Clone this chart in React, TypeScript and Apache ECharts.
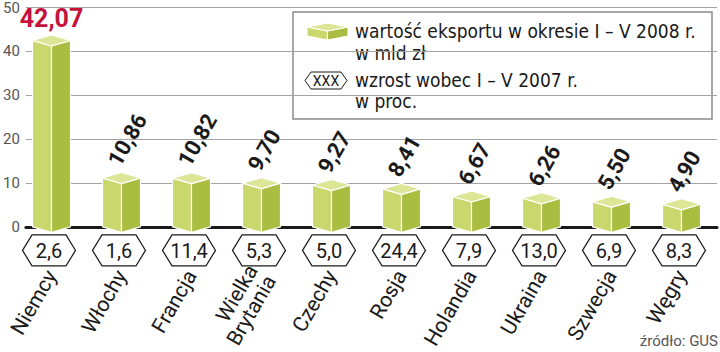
import React, { useEffect, useRef } from "react";
import * as echarts from "echarts";

const categories = ["Niemcy", "Włochy", "Francja", "Wielka\nBrytania", "Czechy", "Rosja", "Holandia", "Ukraina", "Szwecja", "Węgry"];
const exportValues = [42.07, 10.86, 10.82, 9.7, 9.27, 8.41, 6.67, 6.26, 5.5, 4.9];
const growthValues = [2.6, 1.6, 11.4, 5.3, 5.0, 24.4, 7.9, 13.0, 6.9, 8.3];
const yMin = 0;
const yMax = 50;
const yInterval = 10;
const legendExportLines = ["wartość eksportu w okresie I – V 2008 r.", "w mld zł"];
const legendGrowthLines = ["wzrost wobec I – V 2007 r.", "w proc."];
const legendHexText = "XXX";
const sourceText = "źródło: GUS";
const highlightIndex = 0;

const FONT = "Roboto, 'Noto Sans', sans-serif";
const NARROW = "'Liberation Sans Narrow', 'DejaVu Sans Condensed', Roboto, sans-serif";
const C_FRONT = "#c8d86c";
const C_SIDE = "#a9bd40";
const C_TOP = "#dbe696";
const C_RED = "#c4123c";
const C_TEXT = "#1a1a1a";

const fmt = (v: number, d: number) => v.toFixed(d).replace(".", ",");

function cube(x: number, yT: number, y0: number, hw: number, d: number, z = 0) {
  const s = { stroke: "#ffffff", lineWidth: 1.2 };
  return [
    { type: "polygon", z2: z, shape: { points: [[x - hw, yT], [x, yT + d], [x, y0 + d], [x - hw, y0]] }, style: { fill: C_FRONT, ...s } },
    { type: "polygon", z2: z, shape: { points: [[x, yT + d], [x + hw, yT], [x + hw, y0], [x, y0 + d]] }, style: { fill: C_SIDE, ...s } },
    { type: "polygon", z2: z, shape: { points: [[x - hw, yT], [x, yT - d], [x + hw, yT], [x, yT + d]] }, style: { fill: C_TOP, ...s } },
  ];
}

function hexPoints(cx: number, cy: number, hw: number, inner: number, hh: number) {
  return [[cx - hw, cy], [cx - inner, cy - hh], [cx + inner, cy - hh], [cx + hw, cy], [cx + inner, cy + hh], [cx - inner, cy + hh]];
}

export default function App() {
  const ref = useRef<HTMLDivElement>(null);
  useEffect(() => {
    if (!ref.current) return;
    const chart = echarts.init(ref.current, null, { renderer: "svg" });
    const option: any = {
      animation: false,
      backgroundColor: "#ffffff",
      grid: [
        { left: 23, right: 3, top: 5.5, height: 221.5 },
        { left: 16.5, width: 700, top: 5.5, height: 221.5 },
      ],
      xAxis: [
        {
          gridIndex: 0, type: "value", min: 0, max: 1,
          axisLine: { show: true, lineStyle: { color: "#1a1a1a", width: 3 } },
          axisTick: { show: false }, axisLabel: { show: false }, splitLine: { show: false },
        },
        {
          gridIndex: 1, type: "category", data: categories,
          axisLine: { show: false }, axisTick: { show: false }, splitLine: { show: false },
          axisLabel: { interval: 0, rotate: 60, margin: 46, fontSize: 21, lineHeight: 21, color: C_TEXT, fontFamily: FONT },
        },
      ],
      yAxis: [
        {
          gridIndex: 0, type: "value", min: yMin, max: yMax, interval: yInterval,
          axisLine: { show: false }, axisTick: { show: false },
          axisLabel: { color: "#555", fontSize: 15, margin: 6, fontFamily: FONT },
          splitLine: { lineStyle: { color: "#a3a3a3", width: 1 } },
        },
        { gridIndex: 1, type: "value", min: yMin, max: yMax, show: false },
      ],
      series: [
        {
          type: "custom", xAxisIndex: 1, yAxisIndex: 1, clip: false,
          data: exportValues.map((v, i) => [i, v]),
          encode: { x: 0, y: 1 },
          renderItem: (params: any, api: any) => {
            const i = api.value(0);
            const v = api.value(1);
            const top = api.coord([i, v]);
            const base = api.coord([i, 0]);
            const x = top[0], yT = top[1], y0 = base[1];
            const children: any[] = cube(x, yT, y0 + 1, 19, 5.5);
            if (i === highlightIndex) {
              children.push({
                type: "text", x, y: yT - 9,
                style: { text: fmt(v, 2), fill: C_RED, font: `bold 25px ${FONT}`, align: "center", verticalAlign: "bottom" },
              });
            } else {
              children.push({
                type: "text", x: x - 8, y: yT - 14, rotation: (60 * Math.PI) / 180,
                style: { text: fmt(v, 2), fill: C_TEXT, font: `bold 22px ${FONT}`, align: "left", verticalAlign: "middle" },
              });
            }
            return { type: "group", children };
          },
        },
        {
          type: "custom", xAxisIndex: 1, yAxisIndex: 1, clip: false,
          data: growthValues.map((g, i) => [i, g]),
          encode: { x: 0 },
          renderItem: (params: any, api: any) => {
            const i = api.value(0);
            const g = api.value(1);
            const base = api.coord([i, 0]);
            const cx = base[0] - 2.5;
            const cy = base[1] + 24.5;
            return {
              type: "group",
              children: [
                { type: "polygon", shape: { points: hexPoints(cx, cy, 26.5, 17, 15.5) }, style: { fill: "#fff", stroke: "#1a1a1a", lineWidth: 1.2 } },
                { type: "text", x: cx, y: cy + 1, style: { text: fmt(g, 1), fill: C_TEXT, font: `20px ${FONT}`, align: "center", verticalAlign: "middle" } },
              ],
            };
          },
        },
      ],
      graphic: [
        {
          type: "group", z: 50,
          children: [
            { type: "rect", shape: { x: 293, y: 12, width: 419, height: 107 }, style: { fill: "#fff", stroke: "#8a8a8a", lineWidth: 1.5 } },
            ...cube(327.5, 27, 36, 20.5, 4),
            { type: "polygon", shape: { points: hexPoints(326, 80.5, 21, 15, 8.5) }, style: { fill: "#fff", stroke: "#1a1a1a", lineWidth: 1 } },
            { type: "text", x: 326, y: 81, style: { text: legendHexText, fill: C_TEXT, font: `14px ${FONT}`, align: "center", verticalAlign: "middle" } },
            { type: "text", x: 355, y: 42, style: { text: legendExportLines.join("\n"), fill: C_TEXT, font: `19px ${NARROW}`, lineHeight: 21.5, align: "left", verticalAlign: "middle" } },
            { type: "text", x: 355, y: 90.5, style: { text: legendGrowthLines.join("\n"), fill: C_TEXT, font: `19px ${NARROW}`, lineHeight: 21.5, align: "left", verticalAlign: "middle" } },
          ],
        },
        { type: "text", right: 2, top: 333, style: { text: sourceText, fill: "#555", font: `15px ${FONT}` } },
      ],
    };
    chart.setOption(option);
    return () => chart.dispose();
  }, []);
  return <div ref={ref} style={{ width: 720, height: 352, position: "fixed", left: 0, top: 0 }} />;
}
